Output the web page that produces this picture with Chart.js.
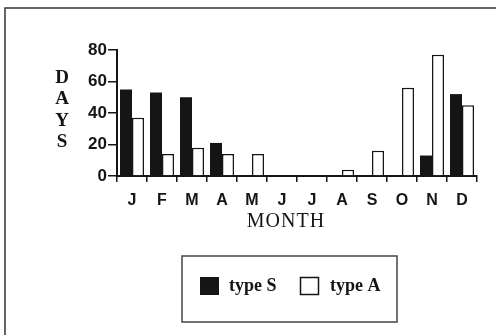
<!DOCTYPE html>
<html>
<head>
<meta charset="utf-8">
<script src="https://cdn.jsdelivr.net/npm/chart.js@4"></script>
<style>
  html, body { margin: 0; padding: 0; background: #fff; }
  #wrap { width: 496px; height: 335px; }
</style>
</head>
<body>
<div id="wrap"><canvas id="chart" width="496" height="335"></canvas></div>
<script>
const months = ['J', 'F', 'M', 'A', 'M', 'J', 'J', 'A', 'S', 'O', 'N', 'D'];
const typeS = [55, 53, 50, 21, 0, 0, 0, 0, 0, 0, 13, 52];
const typeA = [37, 14, 18, 14, 14, 0, 0, 4, 16, 56, 77, 45];
const yTicks = [0, 20, 40, 60, 80];

const ink = '#151515';

// frame, DAYS / MONTH labels and the boxed legend
const extras = {
  id: 'extras',
  afterDraw(chart) {
    const c = chart.ctx;
    c.save();
    c.strokeStyle = '#333';
    c.lineWidth = 1.5;
    c.beginPath();
    c.moveTo(5, 335);
    c.lineTo(5, 8);
    c.lineTo(496, 8);
    c.stroke();

    c.fillStyle = ink;
    c.textAlign = 'center';
    c.textBaseline = 'middle';
    c.font = 'bold 19px "Liberation Serif"';
    'DAYS'.split('').forEach((ch, i) => c.fillText(ch, 62, 78 + i * 21.3));

    c.font = '20px "Liberation Serif"';
    c.letterSpacing = '1px';
    c.fillText('MONTH', 286, 222);
    c.letterSpacing = '0px';

    // legend box
    c.strokeStyle = '#444';
    c.lineWidth = 1.5;
    c.strokeRect(182, 256, 215, 66);
    const ds = chart.data.datasets;
    c.font = 'bold 18px "Liberation Serif"';
    c.textAlign = 'left';
    c.fillStyle = ink;
    c.fillRect(200, 277, 19, 18);
    c.fillText(ds[0].label, 229, 286);
    c.strokeStyle = ink;
    c.lineWidth = 1.5;
    c.strokeRect(300.5, 277.5, 18, 17);
    c.fillText(ds[1].label, 330, 286);
    c.restore();
  }
};

new Chart(document.getElementById('chart'), {
  type: 'bar',
  data: {
    labels: months,
    datasets: [{
      label: 'type S',
      data: typeS,
      backgroundColor: ink,
      borderColor: ink,
      borderWidth: 0
    }, {
      label: 'type A',
      data: typeA,
      backgroundColor: '#fff',
      borderColor: ink,
      borderWidth: 1.5
    }]
  },
  options: {
    responsive: false,
    animation: false,
    categoryPercentage: 0.8,
    barPercentage: 1,
    layout: { padding: { left: 0, top: 50, right: 19, bottom: 0 } },
    plugins: {
      legend: { display: false },
      tooltip: { enabled: false }
    },
    scales: {
      x: {
        grid: { offset: true, drawOnChartArea: false, tickLength: 6, color: ink, lineWidth: 1.5 },
        border: { color: ink, width: 2 },
        ticks: { color: ink, padding: 9, font: { family: '"Liberation Sans"', weight: 'bold', size: 16 } },
        afterFit(s) { s.height = 159; }
      },
      y: {
        min: 0,
        max: 80,
        afterBuildTicks(s) { s.ticks = yTicks.map(v => ({ value: v })); },
        grid: { drawOnChartArea: false, tickLength: 9, color: ink, lineWidth: 1.5 },
        border: { color: ink, width: 2 },
        ticks: { color: ink, padding: 1, font: { family: '"Liberation Sans"', weight: 'bold', size: 17 } },
        afterFit(s) { s.width = 117; }
      }
    }
  },
  plugins: [extras]
});
</script>
</body>
</html>
